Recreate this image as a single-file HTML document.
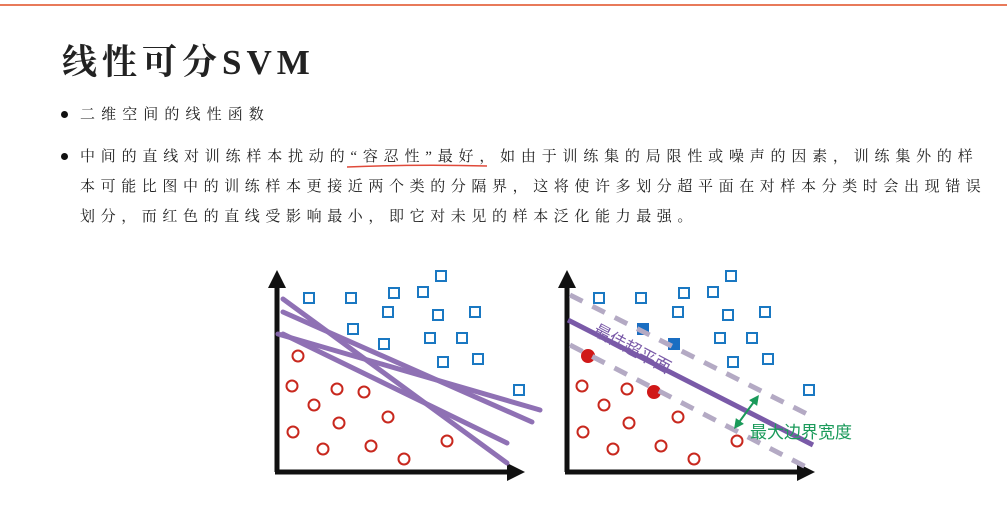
<!DOCTYPE html>
<html><head><meta charset="utf-8"><style>
body{margin:0;width:1007px;height:525px;background:#fff;position:relative;overflow:hidden;font-family:"Liberation Serif","Noto Serif CJK SC",serif;color:#222}
.t{position:absolute;white-space:nowrap}
.ln{font-size:15px;letter-spacing:6.1px;left:80px}
.dot{position:absolute;width:7px;height:7px;border-radius:50%;background:#111}
</style></head><body>
<div style="position:absolute;left:0;top:4px;width:1007px;height:2px;background:#e87a5a"></div>
<div class="t" style="left:62px;top:35px;font-size:35px;font-weight:bold;letter-spacing:5px">线性可分SVM</div>
<div class="dot" style="left:61px;top:111px"></div>
<div class="t ln" style="top:103px">二维空间的线性函数</div>
<div class="dot" style="left:61px;top:153px"></div>
<div class="t ln" style="top:145px;letter-spacing:5.8px">中间的直线对训练样本扰动的“容忍性”最好，如由于训练集的局限性或噪声的因素，训练集外的样</div>
<div class="t ln" style="top:175px;letter-spacing:5.6px">本可能比图中的训练样本更接近两个类的分隔界，这将使许多划分超平面在对样本分类时会出现错误</div>
<div class="t ln" style="top:205px;letter-spacing:5.6px">划分，而红色的直线受影响最小，即它对未见的样本泛化能力最强。</div>
<svg width="1007" height="525" style="position:absolute;left:0;top:0">
<path d="M347 167 Q420 164 487 166" stroke="#e04a3a" stroke-width="1.5" fill="none"/>
<defs><marker id="ga" markerWidth="5" markerHeight="5" refX="2.5" refY="2.5" orient="auto-start-reverse"><path d="M0,0 L5,2.5 L0,5z" fill="#1a9a5a"/></marker></defs>
<g id="L">
<line x1="277" y1="472" x2="277" y2="285" stroke="#111" stroke-width="5"/><path d="M268 288 L277 270 L286 288z" fill="#111"/>
<line x1="275" y1="472" x2="510" y2="472" stroke="#111" stroke-width="5"/><path d="M507 463 L525 472 L507 481z" fill="#111"/>
<g fill="none" stroke="#1a78c2" stroke-width="2">
<rect x="304" y="293" width="10" height="10"/><rect x="346" y="293" width="10" height="10"/><rect x="389" y="288" width="10" height="10"/><rect x="418" y="287" width="10" height="10"/><rect x="436" y="271" width="10" height="10"/><rect x="383" y="307" width="10" height="10"/><rect x="433" y="310" width="10" height="10"/><rect x="470" y="307" width="10" height="10"/><rect x="348" y="324" width="10" height="10"/><rect x="379" y="339" width="10" height="10"/><rect x="425" y="333" width="10" height="10"/><rect x="457" y="333" width="10" height="10"/><rect x="438" y="357" width="10" height="10"/><rect x="473" y="354" width="10" height="10"/><rect x="514" y="385" width="10" height="10"/>
</g>
<g fill="none" stroke="#c8281e" stroke-width="2">
<circle cx="298" cy="356" r="5.5"/><circle cx="292" cy="386" r="5.5"/><circle cx="337" cy="389" r="5.5"/><circle cx="364" cy="392" r="5.5"/><circle cx="314" cy="405" r="5.5"/><circle cx="388" cy="417" r="5.5"/><circle cx="339" cy="423" r="5.5"/><circle cx="293" cy="432" r="5.5"/><circle cx="323" cy="449" r="5.5"/><circle cx="371" cy="446" r="5.5"/><circle cx="404" cy="459" r="5.5"/><circle cx="447" cy="441" r="5.5"/>
</g>
</g>
<g stroke="#8a6ab0" stroke-width="5" stroke-linecap="round" opacity="0.95">
<line x1="283" y1="299" x2="507" y2="463"/><line x1="283" y1="312" x2="532" y2="422"/><line x1="278" y1="334" x2="540" y2="410"/><line x1="283" y1="334" x2="507" y2="443"/>
</g>
<use href="#L" transform="translate(290,0)"/>
<rect x="637" y="323" width="12" height="12" fill="#1a6ec2"/><rect x="668" y="338" width="12" height="12" fill="#1a6ec2"/>
<circle cx="588" cy="356" r="7" fill="#d01818"/><circle cx="654" cy="392" r="7" fill="#d01818"/>
<g stroke="#b4aac4" stroke-width="5" stroke-dasharray="14 11">
<line x1="570" y1="295" x2="813" y2="417"/><line x1="570" y1="345" x2="808" y2="468"/>
</g>
<line x1="568" y1="320" x2="813" y2="445" stroke="#7a5aa8" stroke-width="5"/>
<line x1="737" y1="425" x2="756" y2="399" stroke="#1a9a5a" stroke-width="2" marker-start="url(#ga)" marker-end="url(#ga)"/>
<text x="750" y="438" font-size="17" fill="#1a9a5a" font-family="Liberation Sans,Noto Sans CJK SC,sans-serif">最大边界宽度</text>
<text x="0" y="0" font-size="17" fill="#7a5aa8" font-family="Liberation Sans,Noto Sans CJK SC,sans-serif" transform="translate(592,334) rotate(28)">最佳超平面</text>
</svg>
</body></html>
